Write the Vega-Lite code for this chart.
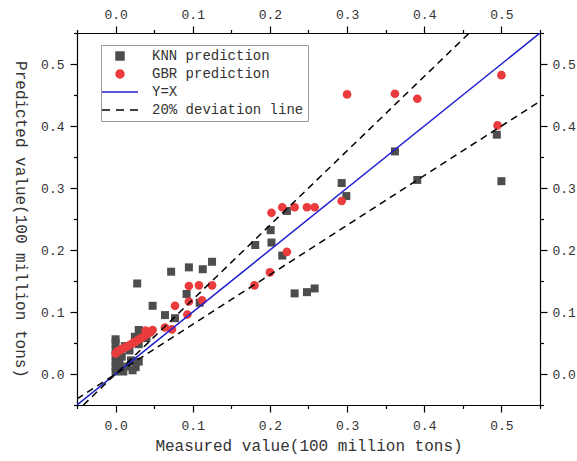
{
  "$schema": "https://vega.github.io/schema/vega-lite/v6.json",
  "width": 463,
  "height": 372,
  "autosize": {"type": "none"},
  "padding": {"left": 77, "top": 33, "right": 37, "bottom": 56},
  "background": "white",
  "config": {
    "view": {"stroke": null},
    "font": "Liberation Mono",
    "axis": {
      "grid": false,
      "domainColor": "#000000",
      "domainWidth": 1.2,
      "tickColor": "#000000",
      "tickWidth": 1.2,
      "labelFont": "Liberation Mono",
      "labelFontSize": 13,
      "labelColor": "#333333",
      "titleFont": "Liberation Mono",
      "titleFontSize": 16,
      "titleFontWeight": "normal",
      "titleColor": "#333333"
    }
  },
  "data": {
    "values": [
      {"s": "KNN prediction", "g": "k", "x": 0.0, "y": 0.004},
      {"s": "KNN prediction", "g": "k", "x": 0.0, "y": 0.012},
      {"s": "KNN prediction", "g": "k", "x": 0.0, "y": 0.02},
      {"s": "KNN prediction", "g": "k", "x": 0.0, "y": 0.03},
      {"s": "KNN prediction", "g": "k", "x": 0.0, "y": 0.04},
      {"s": "KNN prediction", "g": "k", "x": 0.0, "y": 0.05},
      {"s": "KNN prediction", "g": "k", "x": 0.0, "y": 0.056},
      {"s": "KNN prediction", "g": "k", "x": 0.003, "y": 0.008},
      {"s": "KNN prediction", "g": "k", "x": 0.005, "y": 0.018},
      {"s": "KNN prediction", "g": "k", "x": 0.008, "y": 0.028},
      {"s": "KNN prediction", "g": "k", "x": 0.01, "y": 0.004},
      {"s": "KNN prediction", "g": "k", "x": 0.012, "y": 0.045},
      {"s": "KNN prediction", "g": "k", "x": 0.015, "y": 0.012},
      {"s": "KNN prediction", "g": "k", "x": 0.018, "y": 0.038},
      {"s": "KNN prediction", "g": "k", "x": 0.02, "y": 0.022},
      {"s": "KNN prediction", "g": "k", "x": 0.022, "y": 0.006},
      {"s": "KNN prediction", "g": "k", "x": 0.025, "y": 0.06},
      {"s": "KNN prediction", "g": "k", "x": 0.026, "y": 0.011},
      {"s": "KNN prediction", "g": "k", "x": 0.03, "y": 0.071},
      {"s": "KNN prediction", "g": "k", "x": 0.03, "y": 0.048},
      {"s": "KNN prediction", "g": "k", "x": 0.03, "y": 0.02},
      {"s": "KNN prediction", "g": "k", "x": 0.035, "y": 0.065},
      {"s": "KNN prediction", "g": "k", "x": 0.04, "y": 0.058},
      {"s": "KNN prediction", "g": "k", "x": 0.028, "y": 0.146},
      {"s": "KNN prediction", "g": "k", "x": 0.048, "y": 0.11},
      {"s": "KNN prediction", "g": "k", "x": 0.064, "y": 0.095},
      {"s": "KNN prediction", "g": "k", "x": 0.077, "y": 0.09},
      {"s": "KNN prediction", "g": "k", "x": 0.072, "y": 0.165},
      {"s": "KNN prediction", "g": "k", "x": 0.092, "y": 0.129},
      {"s": "KNN prediction", "g": "k", "x": 0.095, "y": 0.172},
      {"s": "KNN prediction", "g": "k", "x": 0.109, "y": 0.115},
      {"s": "KNN prediction", "g": "k", "x": 0.113, "y": 0.169},
      {"s": "KNN prediction", "g": "k", "x": 0.125, "y": 0.181},
      {"s": "KNN prediction", "g": "k", "x": 0.181, "y": 0.208},
      {"s": "KNN prediction", "g": "k", "x": 0.201, "y": 0.232},
      {"s": "KNN prediction", "g": "k", "x": 0.202, "y": 0.212},
      {"s": "KNN prediction", "g": "k", "x": 0.216, "y": 0.191},
      {"s": "KNN prediction", "g": "k", "x": 0.222, "y": 0.263},
      {"s": "KNN prediction", "g": "k", "x": 0.232, "y": 0.13},
      {"s": "KNN prediction", "g": "k", "x": 0.248, "y": 0.132},
      {"s": "KNN prediction", "g": "k", "x": 0.258, "y": 0.138},
      {"s": "KNN prediction", "g": "k", "x": 0.293, "y": 0.308},
      {"s": "KNN prediction", "g": "k", "x": 0.299, "y": 0.287},
      {"s": "KNN prediction", "g": "k", "x": 0.362, "y": 0.359},
      {"s": "KNN prediction", "g": "k", "x": 0.391, "y": 0.313},
      {"s": "KNN prediction", "g": "k", "x": 0.494, "y": 0.386},
      {"s": "KNN prediction", "g": "k", "x": 0.5, "y": 0.311},
      {"s": "GBR prediction", "g": "r", "x": 0.0, "y": 0.033},
      {"s": "GBR prediction", "g": "r", "x": 0.002, "y": 0.036},
      {"s": "GBR prediction", "g": "r", "x": 0.005, "y": 0.038},
      {"s": "GBR prediction", "g": "r", "x": 0.008, "y": 0.04},
      {"s": "GBR prediction", "g": "r", "x": 0.012, "y": 0.043},
      {"s": "GBR prediction", "g": "r", "x": 0.016, "y": 0.045},
      {"s": "GBR prediction", "g": "r", "x": 0.02, "y": 0.048},
      {"s": "GBR prediction", "g": "r", "x": 0.024, "y": 0.051},
      {"s": "GBR prediction", "g": "r", "x": 0.028, "y": 0.054},
      {"s": "GBR prediction", "g": "r", "x": 0.032, "y": 0.057},
      {"s": "GBR prediction", "g": "r", "x": 0.036, "y": 0.06},
      {"s": "GBR prediction", "g": "r", "x": 0.04, "y": 0.064},
      {"s": "GBR prediction", "g": "r", "x": 0.045, "y": 0.067},
      {"s": "GBR prediction", "g": "r", "x": 0.039, "y": 0.07},
      {"s": "GBR prediction", "g": "r", "x": 0.048, "y": 0.071},
      {"s": "GBR prediction", "g": "r", "x": 0.064, "y": 0.075},
      {"s": "GBR prediction", "g": "r", "x": 0.073, "y": 0.072},
      {"s": "GBR prediction", "g": "r", "x": 0.077, "y": 0.11},
      {"s": "GBR prediction", "g": "r", "x": 0.093, "y": 0.096},
      {"s": "GBR prediction", "g": "r", "x": 0.095, "y": 0.117},
      {"s": "GBR prediction", "g": "r", "x": 0.112, "y": 0.119},
      {"s": "GBR prediction", "g": "r", "x": 0.095, "y": 0.142},
      {"s": "GBR prediction", "g": "r", "x": 0.108, "y": 0.143},
      {"s": "GBR prediction", "g": "r", "x": 0.125, "y": 0.143},
      {"s": "GBR prediction", "g": "r", "x": 0.18, "y": 0.143},
      {"s": "GBR prediction", "g": "r", "x": 0.2, "y": 0.164},
      {"s": "GBR prediction", "g": "r", "x": 0.222, "y": 0.197},
      {"s": "GBR prediction", "g": "r", "x": 0.202, "y": 0.26},
      {"s": "GBR prediction", "g": "r", "x": 0.216, "y": 0.269},
      {"s": "GBR prediction", "g": "r", "x": 0.232, "y": 0.269},
      {"s": "GBR prediction", "g": "r", "x": 0.248, "y": 0.269},
      {"s": "GBR prediction", "g": "r", "x": 0.258, "y": 0.269},
      {"s": "GBR prediction", "g": "r", "x": 0.293, "y": 0.279},
      {"s": "GBR prediction", "g": "r", "x": 0.3, "y": 0.451},
      {"s": "GBR prediction", "g": "r", "x": 0.362, "y": 0.452},
      {"s": "GBR prediction", "g": "r", "x": 0.391, "y": 0.444},
      {"s": "GBR prediction", "g": "r", "x": 0.495, "y": 0.401},
      {"s": "GBR prediction", "g": "r", "x": 0.5, "y": 0.482},
      {"s": "Y=X", "g": "yx", "x": -0.05, "y": -0.05},
      {"s": "Y=X", "g": "yx", "x": 0.55, "y": 0.55},
      {"s": "20% deviation line", "g": "up", "x": -0.04167, "y": -0.05},
      {"s": "20% deviation line", "g": "up", "x": 0.45833, "y": 0.55},
      {"s": "20% deviation line", "g": "lo", "x": -0.05, "y": -0.04},
      {"s": "20% deviation line", "g": "lo", "x": 0.55, "y": 0.44}
    ]
  },
  "encoding": {
    "color": {
      "field": "s", "type": "nominal",
      "scale": {
        "domain": ["KNN prediction", "GBR prediction", "Y=X", "20% deviation line"],
        "range": ["#4d4d4d", "#ea3c3c", "#1f1fcf", "#000000"]
      },
      "legend": {
        "title": null,
        "orient": "none",
        "legendX": 24,
        "legendY": 12,
        "direction": "vertical",
        "strokeColor": "#9a9a9a",
        "fillColor": "white",
        "padding": 4,
        "labelFont": "Liberation Mono",
        "labelFontSize": 14,
        "labelColor": "#333333",
        "labelLimit": 300,
        "symbolSize": 64,
        "symbolOffset": 8,
        "labelOffset": 25,
        "rowPadding": 4,
        "encode": {
          "symbols": {
            "update": {
              "shape": {"signal": "datum.value === 'KNN prediction' ? 'square' : datum.value === 'GBR prediction' ? 'circle' : datum.value === 'Y=X' ? 'M-4.5,0H4.5' : 'M-4.5,0H-2.5M-1,0H1M2.5,0H4.5'"},
              "fill": {"signal": "datum.value === 'KNN prediction' ? '#4d4d4d' : datum.value === 'GBR prediction' ? '#ea3c3c' : 'transparent'"},
              "stroke": {"signal": "datum.value === 'Y=X' ? '#1f1fcf' : datum.value === '20% deviation line' ? '#000000' : 'transparent'"},
              "strokeWidth": {"value": 1.5},
              "opacity": {"value": 1}
            }
          }
        }
      }
    }
  },
  "layer": [
    {
      "transform": [{"filter": "datum.s === 'KNN prediction'"}],
      "mark": {"type": "point", "shape": "square", "filled": true, "size": 64, "opacity": 1},
      "encoding": {
        "x": {
          "field": "x", "type": "quantitative",
          "scale": {"domain": [-0.05, 0.55], "nice": false, "zero": false},
          "axis": {
            "orient": "bottom",
            "title": "Measured value(100 million tons)",
            "values": [-0.05, 0, 0.05, 0.1, 0.15, 0.2, 0.25, 0.3, 0.35, 0.4, 0.45, 0.5, 0.55],
            "labelExpr": "abs(round(datum.value*100)) % 10 === 5 ? '' : format(datum.value, '.1f')",
            "tickSize": {"condition": {"test": "abs(round(datum.value*100)) % 10 === 5", "value": 3.5}, "value": 7},
            "labelPadding": 7,
            "titlePadding": 5,
            "labelFlush": false,
            "labelOverlap": false
          }
        },
        "y": {
          "field": "y", "type": "quantitative",
          "scale": {"domain": [-0.05, 0.55], "nice": false, "zero": false},
          "axis": {
            "orient": "left",
            "title": "Predicted value(100 million tons)",
            "titleAngle": 90,
            "titleBaseline": "top",
            "values": [-0.05, 0, 0.05, 0.1, 0.15, 0.2, 0.25, 0.3, 0.35, 0.4, 0.45, 0.5, 0.55],
            "labelExpr": "abs(round(datum.value*100)) % 10 === 5 ? '' : format(datum.value, '.1f')",
            "tickSize": {"condition": {"test": "abs(round(datum.value*100)) % 10 === 5", "value": 3.5}, "value": 7},
            "labelPadding": 6,
            "titlePadding": 12,
            "labelFlush": false,
            "labelOverlap": false
          }
        }
      }
    },
    {
      "transform": [{"filter": "datum.s === 'GBR prediction'"}],
      "mark": {"type": "point", "shape": "circle", "filled": true, "size": 75, "opacity": 1},
      "encoding": {
        "x": {
          "field": "x", "type": "quantitative",
          "axis": {
            "orient": "top",
            "title": null,
            "values": [-0.05, 0, 0.05, 0.1, 0.15, 0.2, 0.25, 0.3, 0.35, 0.4, 0.45, 0.5, 0.55],
            "labelExpr": "abs(round(datum.value*100)) % 10 === 5 ? '' : format(datum.value, '.1f')",
            "tickSize": {"condition": {"test": "abs(round(datum.value*100)) % 10 === 5", "value": 3.5}, "value": 7},
            "labelPadding": 5,
            "labelFlush": false,
            "labelOverlap": false
          }
        },
        "y": {
          "field": "y", "type": "quantitative",
          "axis": {
            "orient": "right",
            "title": null,
            "values": [-0.05, 0, 0.05, 0.1, 0.15, 0.2, 0.25, 0.3, 0.35, 0.4, 0.45, 0.5, 0.55],
            "labelExpr": "abs(round(datum.value*100)) % 10 === 5 ? '' : format(datum.value, '.1f')",
            "tickSize": {"condition": {"test": "abs(round(datum.value*100)) % 10 === 5", "value": 3.5}, "value": 7},
            "labelPadding": 5,
            "labelFlush": false,
            "labelOverlap": false
          }
        }
      }
    },
    {
      "transform": [{"filter": "datum.s === 'Y=X'"}],
      "mark": {"type": "line", "strokeWidth": 1.5, "clip": true},
      "encoding": {
        "x": {"field": "x", "type": "quantitative", "axis": null},
        "y": {"field": "y", "type": "quantitative", "axis": null}
      }
    },
    {
      "transform": [{"filter": "datum.s === '20% deviation line'"}],
      "mark": {"type": "line", "strokeWidth": 1.5, "strokeDash": [7, 5], "clip": true},
      "encoding": {
        "x": {"field": "x", "type": "quantitative", "axis": null},
        "y": {"field": "y", "type": "quantitative", "axis": null},
        "detail": {"field": "g"}
      }
    }
  ],
  "resolve": {"axis": {"x": "independent", "y": "independent"}}
}
